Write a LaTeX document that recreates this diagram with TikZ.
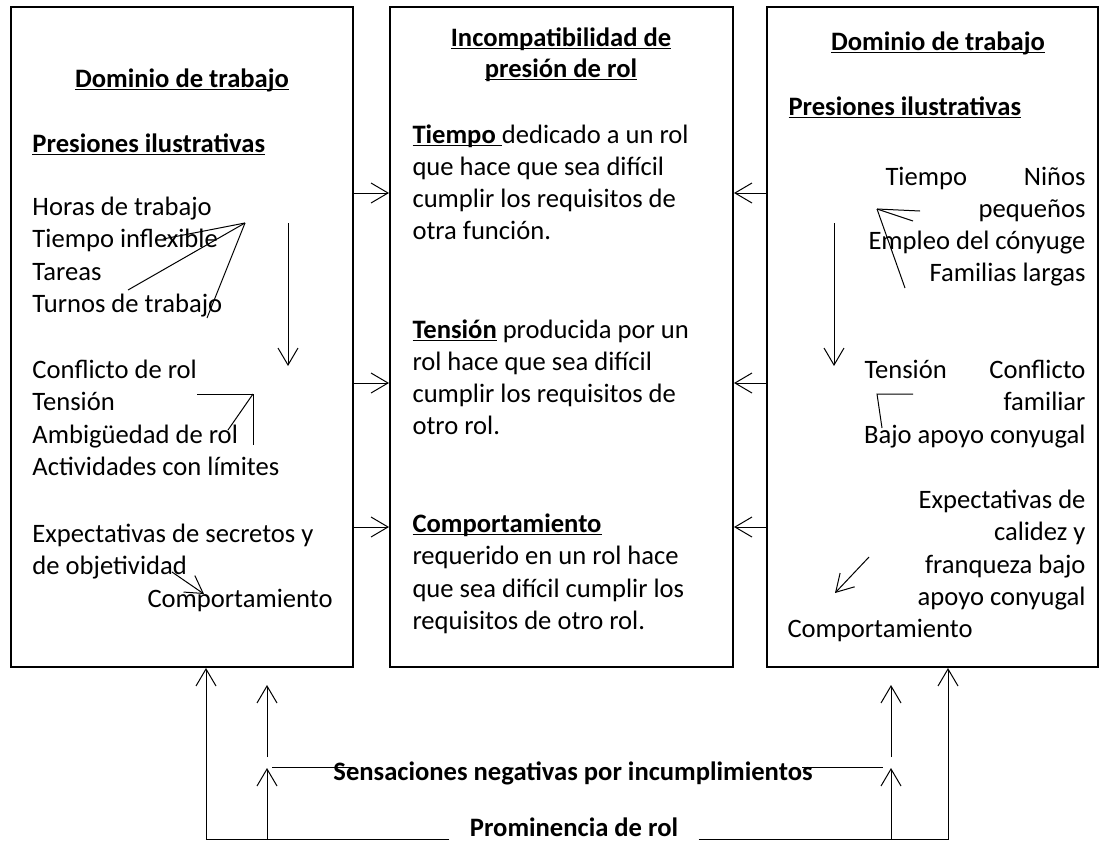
\documentclass[tikz,border=0pt]{standalone}
\usepackage{fontspec}
\setmainfont{Carlito}
\usetikzlibrary{arrows.meta}

\newsavebox{\undlbox}
\newcommand{\undl}[1]{\sbox{\undlbox}{#1}\rlap{\rule[-1.7pt]{\wd\undlbox}{0.55pt}}\usebox{\undlbox}}

\begin{document}
\begin{tikzpicture}[x=0.5pt, y=-0.5pt, line width=0.5pt, >={Straight Barb[length=8.5pt,width=10pt]},
    dom/.style={draw, line width=1pt, minimum height=330pt, inner sep=0pt},
    txt/.style={inner sep=0pt, anchor=base west, font=\fontsize{13.3}{16}\selectfont},
    rtxt/.style={txt, anchor=base east},
    head/.style={inner sep=0pt, anchor=base, font=\fontsize{13.3}{16}\selectfont\bfseries}]
        \useasboundingbox (0,0) rectangle (1101,841);

        % the three boxes
        \node[dom, minimum width=171pt] (work) at (182,337) {};
        \node[dom, minimum width=171.5pt] (inc) at (561.5,337) {};
        \node[dom, minimum width=165.5pt] (fam) at (932.5,337) {};

        % left box
        \node[head] (wt) at (182,87) {\undl{Dominio de trabajo}};
        \node[txt, font=\fontsize{13.3}{16}\selectfont\bfseries] (wp) at (32,152) {\undl{Presiones ilustrativas}};
        \node[txt] (w1) at (32,215) {Horas de trabajo};
        \node[txt] (w2) at (32,247.5) {Tiempo inflexible};
        \node[txt] (w3) at (32,280) {Tareas};
        \node[txt] (w4) at (32,312.5) {Turnos de trabajo};
        \node[txt] (w5) at (32,378) {Conflicto de rol};
        \node[txt] (w6) at (32,410.5) {Tensión};
        \node[txt] (w7) at (32,443) {Ambigüedad de rol};
        \node[txt] (w8) at (32,475.5) {Actividades con límites};
        \node[txt] (w9) at (32,542) {Expectativas de secretos y};
        \node[txt] (w10) at (32,574.5) {de objetividad};
        \node[txt] (w11) at (147,607) {Comportamiento};

        \coordinate (wx) at (245,223);
        \draw (wx) -- (163,239);
        \draw (wx) -- (128,290);
        \draw (wx) -- (207,318);
        \draw[->] (288,223) -- (288,366);
        \draw (197,394) -- (253,394) -- (253,445);
        \draw (253,394) -- (228,430);
        \draw[->] (172,572) -- (204,594);

        % middle box
        \node[head] (it1) at (561,46) {\undl{Incompatibilidad de}};
        \node[head] (it2) at (561,77) {\undl{presión de rol}};
        \node[txt] (i1) at (412,143) {\undl{\textbf{Tiempo }}dedicado a un rol};
        \node[txt] (i2) at (412,175) {que hace que sea difícil};
        \node[txt] (i3) at (412,207) {cumplir los requisitos de};
        \node[txt] (i4) at (412,239) {otra función.};
        \node[txt] (i5) at (412,338) {\undl{\textbf{Tensión}} producida por un};
        \node[txt] (i6) at (412,370) {rol hace que sea difícil};
        \node[txt] (i7) at (412,402) {cumplir los requisitos de};
        \node[txt] (i8) at (412,434) {otro rol.};
        \node[txt] (i9) at (412,532) {\undl{\textbf{Comportamiento}}};
        \node[txt] (i10) at (412,564.5) {requerido en un rol hace};
        \node[txt] (i11) at (412,597) {que sea difícil cumplir los};
        \node[txt] (i12) at (412,629) {requisitos de otro rol.};

        % right box
        \node[head] (ft) at (938,50) {\undl{Dominio de trabajo}};
        \node[txt, font=\fontsize{13.3}{16}\selectfont\bfseries] (fp) at (788,115) {\undl{Presiones ilustrativas}};
        \node[txt] (f1a) at (885,185) {Tiempo};
        \node[rtxt] (f1b) at (1086,185) {Niños};
        \node[rtxt] (f2) at (1086,217) {pequeños};
        \node[rtxt] (f3) at (1086,249) {Empleo del cónyuge};
        \node[rtxt] (f4) at (1086,281) {Familias largas};
        \node[txt] (f5a) at (864,378) {Tensión};
        \node[rtxt] (f5b) at (1086,378) {Conflicto};
        \node[rtxt] (f6) at (1086,410.5) {familiar};
        \node[rtxt] (f7) at (1086,443) {Bajo apoyo conyugal};
        \node[rtxt] (f8) at (1086,508) {Expectativas de};
        \node[rtxt] (f9) at (1086,540.5) {calidez y};
        \node[rtxt] (f10) at (1086,573) {franqueza bajo};
        \node[rtxt] (f11) at (1086,605) {apoyo conyugal};
        \node[txt] (f12) at (787,637) {Comportamiento};

        \coordinate (fx) at (877,209);
        \draw (fx) -- (920,211);
        \draw (fx) -- (913,221);
        \draw (fx) -- (905,288);
        \draw[->] (834,223) -- (834,366);
        \draw (913,394) -- (877,394) -- (882,428);
        \draw[->] (869,557) -- (835,593);

        % arrows into the middle box
        \coordinate (r1) at (0,193);
        \coordinate (r2) at (0,383);
        \coordinate (r3) at (0,527);
        \draw[->] (work.east |- r1) -- (inc.west |- r1);
        \draw[->] (work.east |- r2) -- (inc.west |- r2);
        \draw[->] (work.east |- r3) -- (inc.west |- r3);
        \draw[->] (fam.west |- r1) -- (inc.east |- r1);
        \draw[->] (fam.west |- r2) -- (inc.east |- r2);
        \draw[->] (fam.west |- r3) -- (inc.east |- r3);

        % bottom
        \node[head, inner xsep=10pt] (prom) at (574,836) {Prominencia de rol};
        \node[head] (sens) at (573,780) {Sensaciones negativas por incumplimientos};
        \coordinate (pl) at (206,839);
        \coordinate (pr) at (948,839);
        \draw[->] (prom.west |- pl) -- (pl) -- (pl |- work.south);
        \draw[->] (prom.east |- pr) -- (pr) -- (pr |- fam.south);

        \coordinate (ql) at (267,839);
        \coordinate (qr) at (891,839);
        \draw[->] (ql) -- (267,768);
        \draw[->] (267,757) -- (267,685);
        \draw[->] (qr) -- (891,768);
        \draw[->] (891,757) -- (891,685);
        \draw (272,767) -- (353,767);
        \draw (802,767) -- (883,767);
\end{tikzpicture}
\end{document}
